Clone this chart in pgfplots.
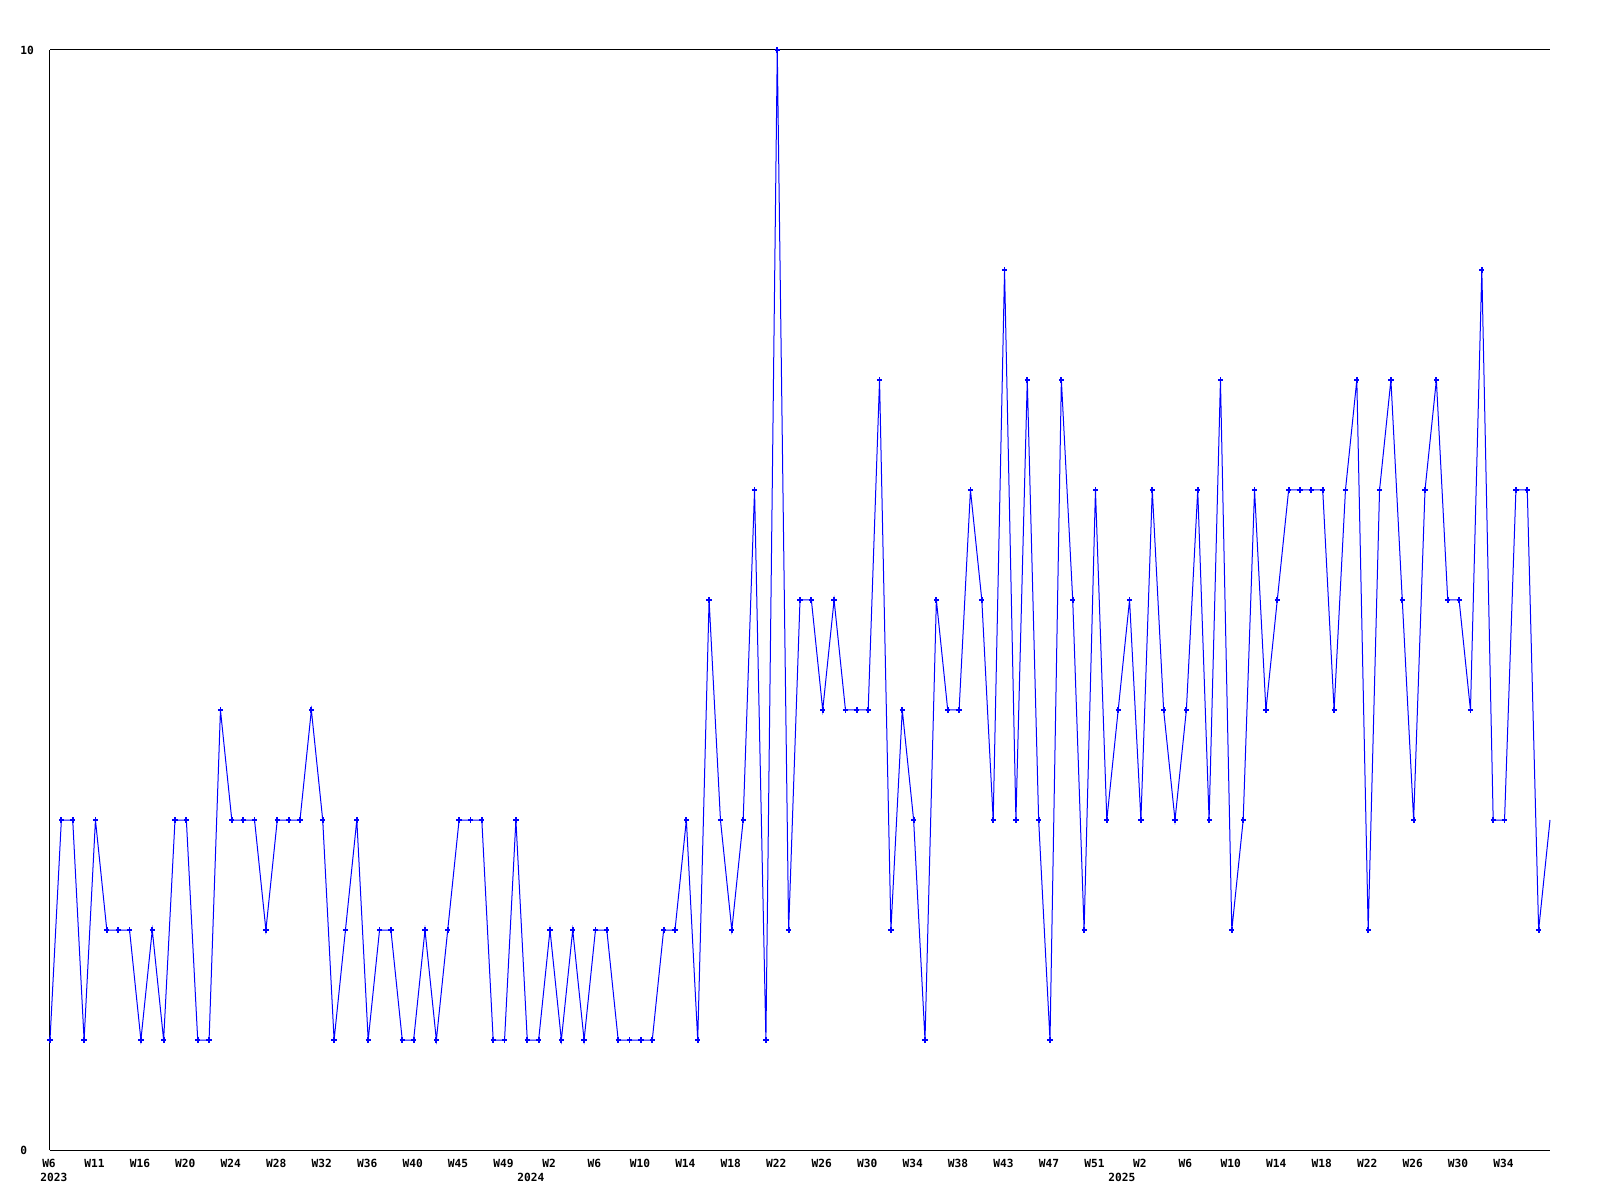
\documentclass[border=0pt]{standalone}
\usepackage{fontspec}
\setmonofont{DejaVu Sans Mono}
\usepackage{pgfplots}
\usepackage{pgfplotstable}
\pgfplotsset{compat=1.18}

\pgfplotstableread{
i v
0 1
1 3
2 3
3 1
4 3
5 2
6 2
7 2
8 1
9 2
10 1
11 3
12 3
13 1
14 1
15 4
16 3
17 3
18 3
19 2
20 3
21 3
22 3
23 4
24 3
25 1
26 2
27 3
28 1
29 2
30 2
31 1
32 1
33 2
34 1
35 2
36 3
37 3
38 3
39 1
40 1
41 3
42 1
43 1
44 2
45 1
46 2
47 1
48 2
49 2
50 1
51 1
52 1
53 1
54 2
55 2
56 3
57 1
58 5
59 3
60 2
61 3
62 6
63 1
64 10
65 2
66 5
67 5
68 4
69 5
70 4
71 4
72 4
73 7
74 2
75 4
76 3
77 1
78 5
79 4
80 4
81 6
82 5
83 3
84 8
85 3
86 7
87 3
88 1
89 7
90 5
91 2
92 6
93 3
94 4
95 5
96 3
97 6
98 4
99 3
100 4
101 6
102 3
103 7
104 2
105 3
106 6
107 4
108 5
109 6
110 6
111 6
112 6
113 4
114 6
115 7
116 2
117 6
118 7
119 5
120 3
121 6
122 7
123 5
124 5
125 4
126 8
127 3
128 3
129 6
130 6
131 2
132 3
}\datatable

\begin{document}
\begin{tikzpicture}
\useasboundingbox (-25pt,-25pt) rectangle (775pt,575pt);
\begin{axis}[
  at={(0pt,0pt)}, anchor=south west,
  scale only axis,
  width=750pt, height=550pt,
  xmin=0, xmax=132, ymin=0, ymax=10,
  axis x line=bottom, axis y line=left,
  axis line style={-, black, line width=0.5pt},
  ymajorgrids, grid style={black, line width=0.5pt},
  major tick length=0pt,
  ytick={0,10}, yticklabels={0,10},
  xtick={0,4,...,128},
  xticklabels={W6,W11,W16,W20,W24,W28,W32,W36,W40,W45,W49,W2,W6,W10,W14,W18,W22,W26,W30,W34,W38,W43,W47,W51,W2,W6,W10,W14,W18,W22,W26,W30,W34},
  /pgf/number format/assume math mode=true,
  ticklabel style={font=\ttfamily\bfseries\fontsize{5.6}{6}\selectfont, inner sep=0pt},
  yticklabel style={anchor=west, xshift=-15pt},
  xticklabel style={anchor=north, yshift=-4.5pt, xshift=-0.5pt},
  clip=false,
]
\addplot[blue, line width=0.5pt, no marks] table[x=i, y=v] {\datatable};
\addplot[blue, only marks, mark=+, mark size=1.3pt, mark options={line width=0.9pt},
  skip coords between index={132}{133}] table[x=i, y=v] {\datatable};
\node[anchor=north west, inner sep=0pt, font=\ttfamily\bfseries\fontsize{5.6}{6}\selectfont, yshift=-11.5pt] at (axis cs:-0.88,0) {2023};
\node[anchor=north west, inner sep=0pt, font=\ttfamily\bfseries\fontsize{5.6}{6}\selectfont, yshift=-11.5pt] at (axis cs:41.1,0) {2024};
\node[anchor=north west, inner sep=0pt, font=\ttfamily\bfseries\fontsize{5.6}{6}\selectfont, yshift=-11.5pt] at (axis cs:93.1,0) {2025};
\end{axis}
\end{tikzpicture}
\end{document}
